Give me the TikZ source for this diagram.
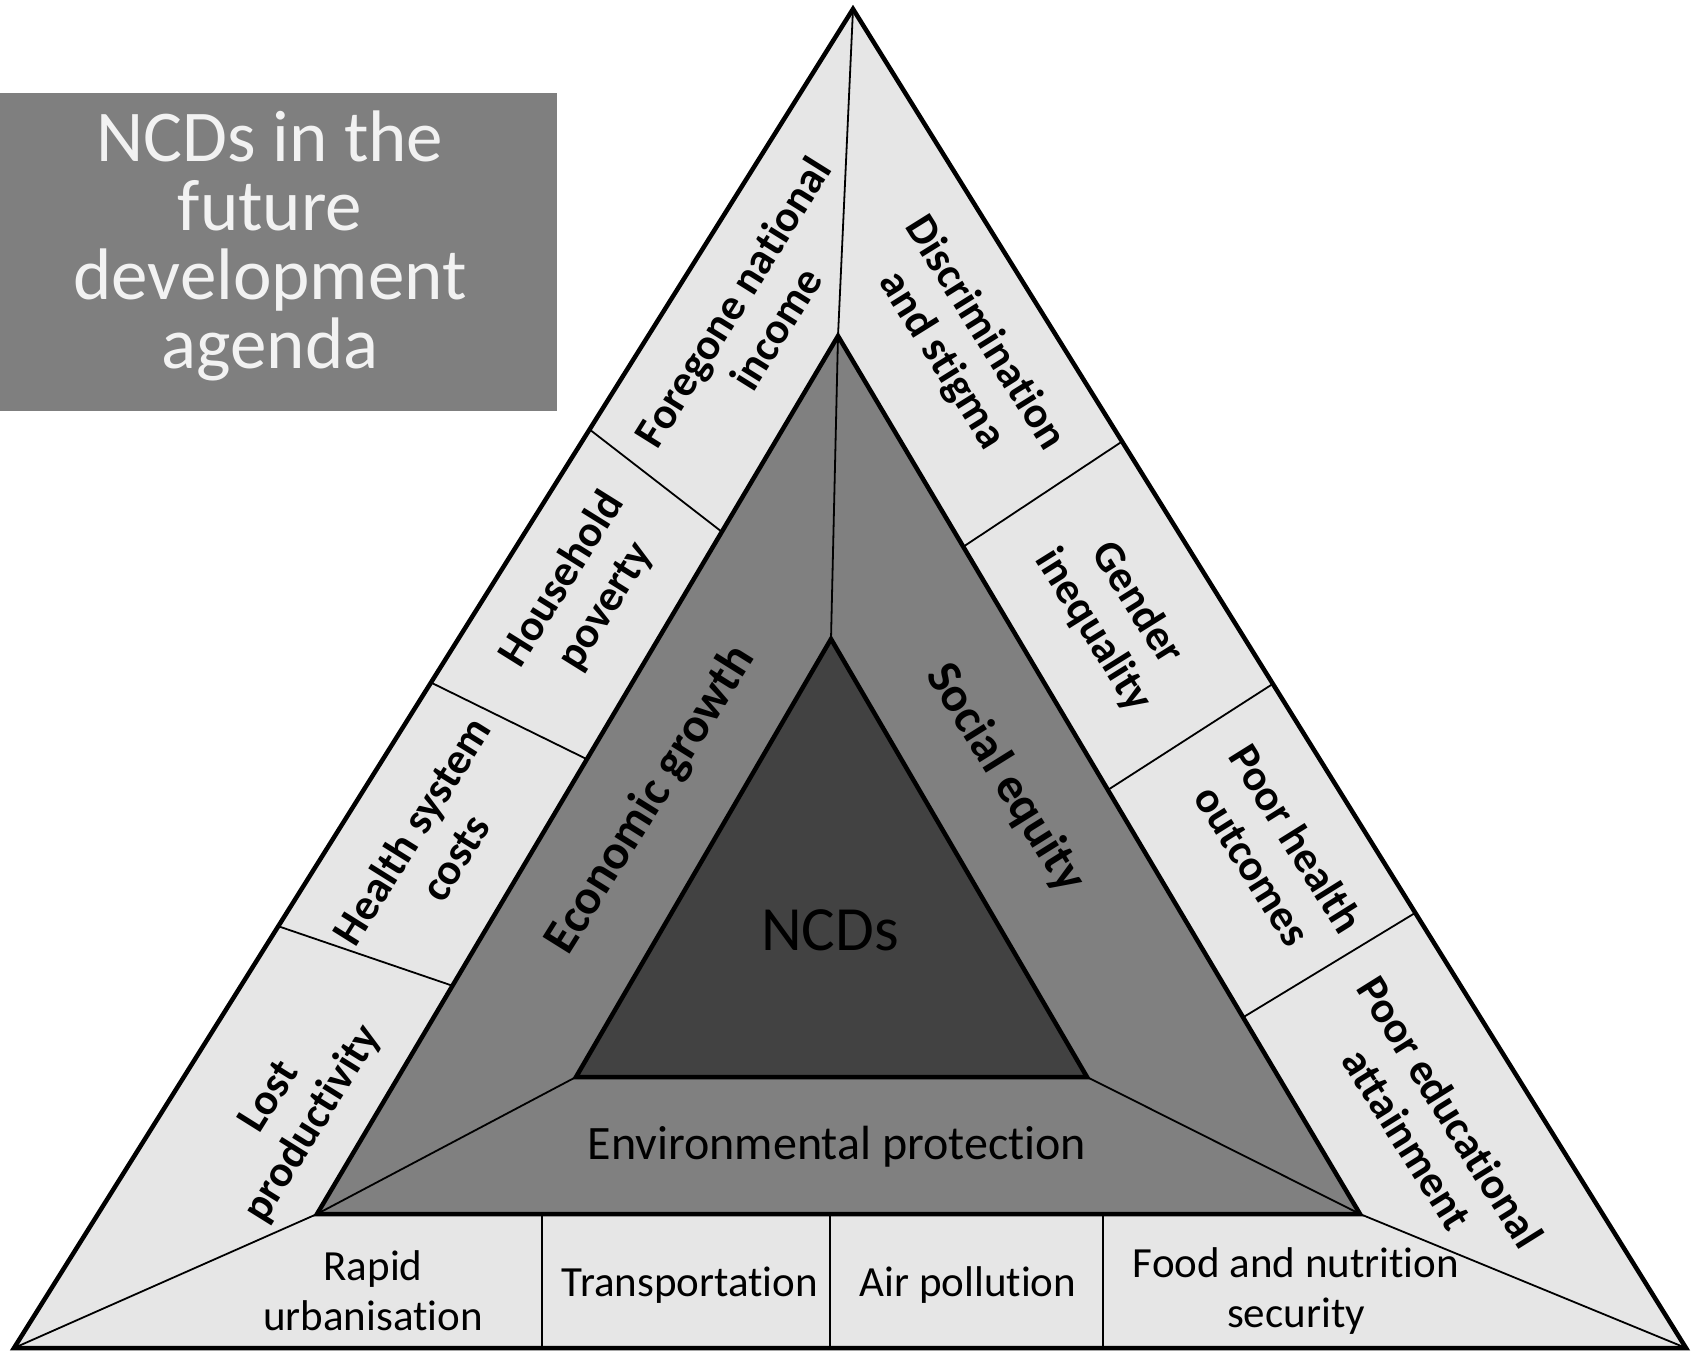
\documentclass[tikz,border=0pt]{standalone}
\usepackage{fontspec}
\setmainfont{Carlito}[Ligatures=NoCommon]
\usetikzlibrary{calc}
\definecolor{outerfill}{HTML}{E6E6E6}
\definecolor{midfill}{HTML}{808080}
\definecolor{innerfill}{HTML}{424242}
\definecolor{titlefill}{HTML}{7F7F7F}
\definecolor{titletext}{HTML}{F2F2F2}
\begin{document}
\begin{tikzpicture}[x=1pt,y=-1pt,
  sidelbl/.style={font=\fontsize{44}{51}\selectfont\bfseries, align=center, inner sep=0pt},
  midlbl/.style={font=\fontsize{49}{52}\selectfont\bfseries, align=center, inner sep=0pt},
  botlbl/.style={font=\fontsize{43}{50}\selectfont, align=center, inner sep=0pt},
  thick border/.style={draw=black, line width=4.5pt, line join=miter},
  sep/.style={draw=black, line width=1.8pt}]
\useasboundingbox (0,0) rectangle (1691,1353);
% title box
\node[fill=titlefill, minimum width=557pt, minimum height=318pt, anchor=north west, inner sep=0pt] (titlebox) at (0,93) {};
\node[font=\fontsize{73}{69}\selectfont, text=titletext, align=center, inner sep=0pt] (title) at (270,246) {NCDs in the\\future\\development\\agenda};
% vertices
\coordinate (OA) at (853,9);
\coordinate (OL) at (14,1348);
\coordinate (OR) at (1686,1348);
\coordinate (MA) at (838,336);
\coordinate (ML) at (317,1214);
\coordinate (MR) at (1360,1214);
\coordinate (IA) at (831,639);
\coordinate (IL) at (576,1077);
\coordinate (IR) at (1087,1077);
% outer triangle fill
\fill[outerfill] (OA) -- (OL) -- (OR) -- cycle;
% separators in outer band
\coordinate (l1o) at ($(OL)!0.686!(OA)$); \coordinate (l1m) at ($(ML)!0.777!(MA)$);
\coordinate (l2o) at ($(OL)!0.497!(OA)$); \coordinate (l2m) at ($(ML)!0.518!(MA)$);
\coordinate (l3o) at ($(OL)!0.315!(OA)$); \coordinate (l3m) at ($(ML)!0.260!(MA)$);
\coordinate (r1o) at ($(OR)!0.677!(OA)$); \coordinate (r1m) at ($(MR)!0.760!(MA)$);
\coordinate (r2o) at ($(OR)!0.496!(OA)$); \coordinate (r2m) at ($(MR)!0.483!(MA)$);
\coordinate (r3o) at ($(OR)!0.325!(OA)$); \coordinate (r3m) at ($(MR)!0.224!(MA)$);
\coordinate (b1t) at (542,1214); \coordinate (b1b) at (542,1348);
\coordinate (b2t) at (830,1214); \coordinate (b2b) at (830,1348);
\coordinate (b3t) at (1103,1214); \coordinate (b3b) at (1103,1348);
\path[sep] (OA) -- (MA) (OL) -- (ML) (OR) -- (MR)
  (l1o) -- (l1m) (l2o) -- (l2m) (l3o) -- (l3m)
  (r1o) -- (r1m) (r2o) -- (r2m) (r3o) -- (r3m)
  (b1t) -- (b1b) (b2t) -- (b2b) (b3t) -- (b3b);
\path[thick border] (OA) -- (OL) -- (OR) -- cycle;
% middle triangle
\path[fill=midfill] (MA) -- (ML) -- (MR) -- cycle;
\path[sep] (MA) -- (IA) (ML) -- (IL) (MR) -- (IR);
\path[thick border] (MA) -- (ML) -- (MR) -- cycle;
% inner triangle
\path[fill=innerfill, thick border] (IA) -- (IL) -- (IR) -- cycle;
% labels
\node[font=\fontsize{63}{63}\selectfont, inner sep=0pt] (ncds) at (830,930) {NCDs};
\node[font=\fontsize{48}{50}\selectfont, inner sep=0pt] (env) at (837,1147) {Environmental protection};
\node[midlbl, rotate=58] (econ) at (651,800) {Economic growth};
\node[midlbl, rotate=-58] (social) at (1005,778) {Social equity};
\node[sidelbl, rotate=58] (foregone) at (754,315) {Foregone national\\income};
\node[sidelbl, rotate=58] (household) at (584,593) {Household\\poverty};
\node[sidelbl, rotate=58] (health) at (433,844) {Health system\\costs};
\node[sidelbl, rotate=58] (lost) at (292,1111) {Lost\\productivity};
\node[sidelbl, rotate=-58] (discr) at (963,347) {Discrimination\\and stigma};
\node[sidelbl, rotate=-58] (gender) at (1115,617) {Gender\\inequality};
\node[sidelbl, rotate=-58] (poorhealth) at (1275,852) {Poor health\\outcomes};
\node[sidelbl, rotate=-58] (poored) at (1429,1125) {Poor educational\\attainment};
\node[botlbl] (rapid) at (373,1291) {Rapid\\urbanisation};
\node[botlbl] (transport) at (690,1285) {Transportation};
\node[botlbl] (air) at (968,1285) {Air pollution};
\node[botlbl] (food) at (1296,1291) {Food and nutrition\\security};
\end{tikzpicture}
\end{document}
